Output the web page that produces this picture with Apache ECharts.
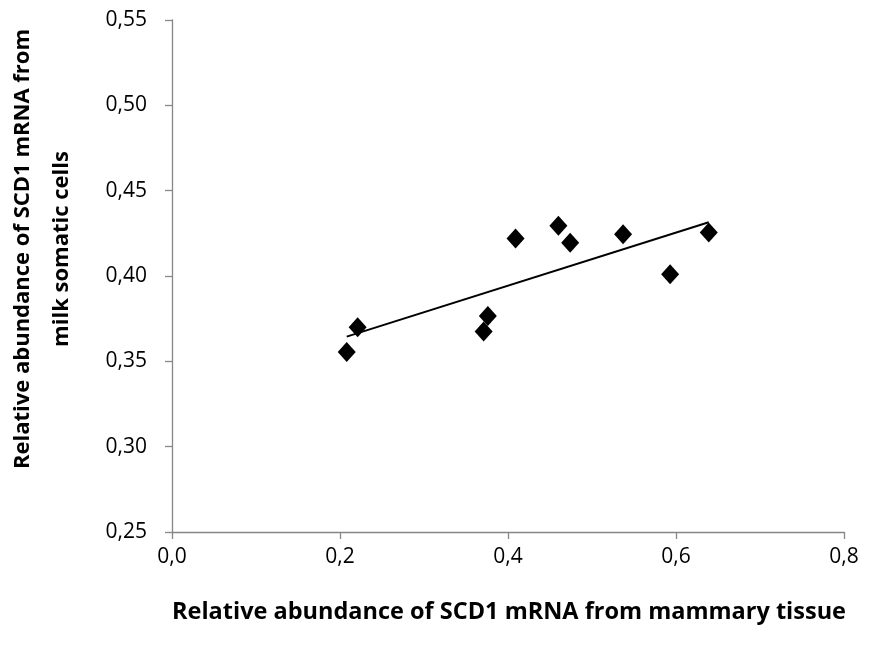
<!DOCTYPE html>
<html><head><meta charset="utf-8">
<script src="https://cdn.jsdelivr.net/npm/echarts@6/dist/echarts.min.js"></script>
<style>html,body{margin:0;padding:0;background:#fff}#c{width:885px;height:653px}</style>
</head><body><div id="c"></div>
<script>
const xValues = [0.208, 0.221, 0.371, 0.376, 0.409, 0.460, 0.474, 0.537, 0.593, 0.639];
const yValues = [0.3555, 0.370, 0.3675, 0.3765, 0.422, 0.4295, 0.4195, 0.4245, 0.401, 0.4255];
const trendX = [0.208, 0.639];
const trendY = [0.3645, 0.4315];
const yTitle = ['Relative abundance of SCD1 mRNA from', 'milk somatic cells'];
const xTitle = 'Relative abundance of SCD1 mRNA from mammary tissue';

const pts = xValues.map((x,i)=>[x,yValues[i]]);
const trend = trendX.map((x,i)=>[x,trendY[i]]);
const font = 'Open Sans';
const chart = echarts.init(document.getElementById('c'));
chart.setOption({
  animation:false,
  textStyle:{fontFamily:font},
  grid:{left:172,right:41,top:20,bottom:121},
  xAxis:{type:'value',min:0,max:0.8,interval:0.2,
    axisLine:{lineStyle:{color:'#868686',width:1.3}},
    axisTick:{show:true,length:7,lineStyle:{color:'#868686',width:1.3}},
    splitLine:{show:false},
    axisLabel:{color:'#000',fontSize:21,fontFamily:font,margin:15,
      formatter:v=>v.toFixed(1).replace('.',',')}},
  yAxis:{type:'value',min:0.25,max:0.55,interval:0.05,
    axisLine:{show:true,lineStyle:{color:'#868686',width:1.3}},
    axisTick:{show:true,length:7,lineStyle:{color:'#868686',width:1.3}},
    splitLine:{show:false},
    axisLabel:{color:'#000',fontSize:21,fontFamily:font,margin:25,
      formatter:v=>v.toFixed(2).replace('.',',')}},
  series:[
    {type:'line',data:trend,symbol:'none',lineStyle:{color:'#000',width:2},z:2},
    {type:'scatter',data:pts,symbol:'diamond',symbolSize:[18,20],itemStyle:{color:'#000',opacity:1},z:3}
  ],
  graphic:[
    {type:'text',x:23,y:249,rotation:Math.PI/2,
      style:{text:yTitle[0],font:'bold 22px "Open Sans"',fill:'#000',textAlign:'center',textVerticalAlign:'middle'}},
    {type:'text',x:62,y:249,rotation:Math.PI/2,
      style:{text:yTitle[1],font:'bold 22px "Open Sans"',fill:'#000',textAlign:'center',textVerticalAlign:'middle'}},
    {type:'text',x:509,y:612,
      style:{text:xTitle,font:'bold 23.5px "Open Sans"',fill:'#000',textAlign:'center',textVerticalAlign:'middle'}}
  ]
});
</script></body></html>
